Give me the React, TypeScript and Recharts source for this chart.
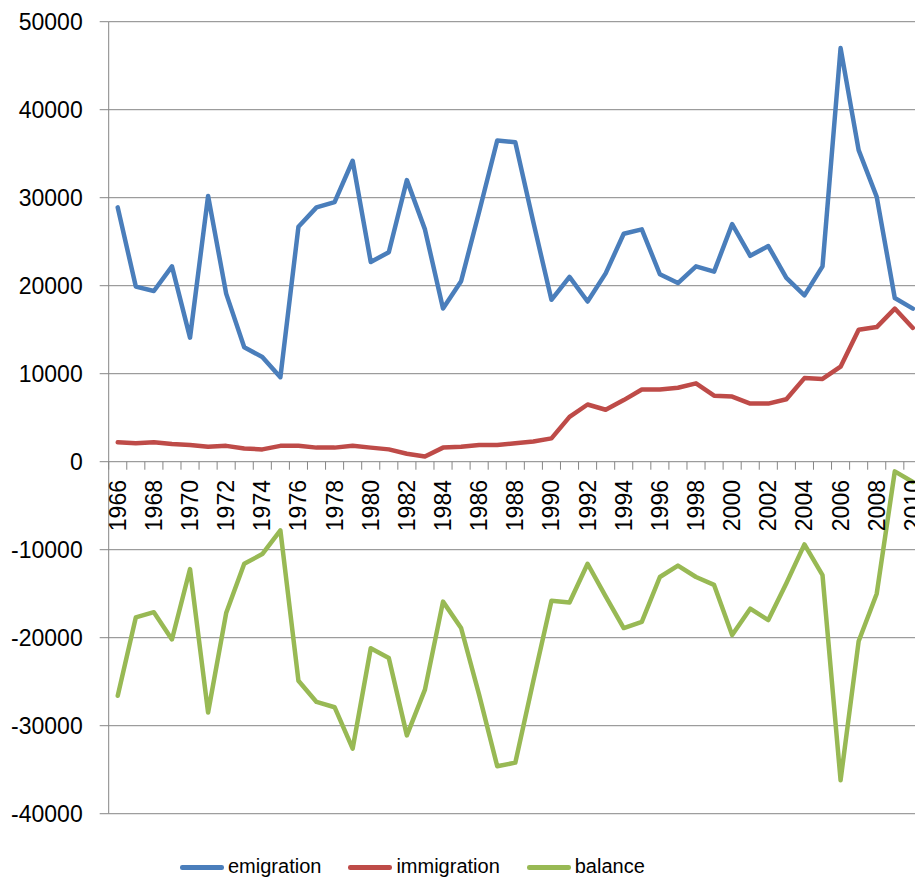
import React from 'react';
import { LineChart, Line, XAxis, YAxis, CartesianGrid, Legend } from 'recharts';

const years = ['1966','1967','1968','1969','1970','1971','1972','1973','1974','1975','1976','1977','1978','1979','1980','1981','1982','1983','1984','1985','1986','1987','1988','1989','1990','1991','1992','1993','1994','1995','1996','1997','1998','1999','2000','2001','2002','2003','2004','2005','2006','2007','2008','2009','2010'];

const emigration = [28900,19900,19400,22200,14100,30200,19100,13000,11900,9600,26700,28900,29500,34200,22700,23800,32000,26400,17400,20500,28400,36500,36300,27200,18400,21000,18200,21400,25900,26400,21300,20300,22200,21600,27000,23400,24500,20900,18900,22200,47000,35400,30100,18600,17400];

const immigration = [2200,2100,2200,2000,1900,1700,1800,1500,1400,1800,1800,1600,1600,1800,1600,1400,900,600,1600,1700,1900,1900,2100,2300,2650,5100,6500,5900,7000,8200,8200,8400,8900,7500,7400,6600,6600,7100,9500,9400,10800,15000,15300,17400,15200];

const balance = [-26600,-17700,-17100,-20200,-12200,-28500,-17200,-11600,-10500,-7800,-24900,-27300,-27900,-32600,-21200,-22300,-31100,-25900,-15900,-18900,-26500,-34600,-34200,-24900,-15800,-16000,-11600,-15300,-18900,-18200,-13100,-11800,-13100,-14000,-19700,-16700,-18000,-13800,-9400,-12900,-36200,-20400,-15000,-1100,-2300];

const seriesNames = ['emigration', 'immigration', 'balance'];

const yTicks = [-40000,-30000,-20000,-10000,0,10000,20000,30000,40000,50000];

const data = years.map((year, i) => ({
  year,
  emigration: emigration[i],
  immigration: immigration[i],
  balance: balance[i],
}));

const Y_MIN = -40000;
const Y_MAX = 50000;
const CHART_W = 915;
const CHART_H = 871;
const MARGIN_TOP = 13.7;
const MARGIN_RIGHT = 1.1;
const Y_AXIS_W = 100.7;
const X_AXIS_H = 1;
const LEGEND_H = 64.3;
const PLOT_W = CHART_W - Y_AXIS_W - MARGIN_RIGHT;
const PLOT_H = CHART_H - MARGIN_TOP - LEGEND_H - X_AXIS_H;
const STEP = PLOT_W / years.length;
const FONT = "'Liberation Sans', Arial, sans-serif";
const GRID = '#868686';

const YearTick = (props: any) => {
  const { x, y, index, payload } = props;
  const zeroY = y - (PLOT_H * (0 - Y_MIN)) / (Y_MAX - Y_MIN);
  const half = STEP / 2;
  const ty = zeroY + 18.3;
  return (
    <g>
      <line x1={x - half} x2={x - half} y1={zeroY} y2={zeroY + 8} stroke={GRID} strokeWidth={1} />
      {index === years.length - 1 && (
        <line x1={x + half} x2={x + half} y1={zeroY} y2={zeroY + 8} stroke={GRID} strokeWidth={1} />
      )}
      {index % 2 === 0 && (
        <text
          x={x}
          y={ty}
          dy="0.35em"
          textAnchor="end"
          transform={`rotate(-90 ${x} ${ty})`}
          fontSize={23}
          fontFamily={FONT}
          fill="#000"
        >
          {payload.value}
        </text>
      )}
    </g>
  );
};

const LegendContent = (props: any) => {
  const { payload } = props;
  const items = [...(payload || [])].sort(
    (a: any, b: any) => seriesNames.indexOf(a.value) - seriesNames.indexOf(b.value)
  );
  return (
    <div
      style={{
        height: LEGEND_H,
        boxSizing: 'border-box',
        paddingTop: 41.3,
        fontFamily: FONT,
        fontSize: 20,
        lineHeight: '20px',
        whiteSpace: 'nowrap',
        color: '#000',
      }}
    >
      {items.map((entry: any, i: number) => (
        <span key={i} style={{ marginRight: 27 }}>
          <span
            style={{
              display: 'inline-block',
              width: 44,
              height: 4.5,
              borderRadius: 2.25,
              background: entry.color,
              verticalAlign: 'middle',
              marginRight: 4,
            }}
          />
          {entry.value}
        </span>
      ))}
    </div>
  );
};

export default function App() {
  return (
    <LineChart
      width={CHART_W}
      height={CHART_H}
      data={data}
      margin={{ top: MARGIN_TOP, right: MARGIN_RIGHT, left: 0, bottom: 0 }}
    >
      <CartesianGrid vertical={false} stroke={GRID} strokeWidth={1} />
      <XAxis
        dataKey="year"
        interval={0}
        height={X_AXIS_H}
        tickSize={0}
        tickMargin={0}
        axisLine={false}
        tickLine={false}
        padding={{ left: STEP / 2, right: STEP / 2 }}
        tick={<YearTick />}
      />
      <YAxis
        width={Y_AXIS_W}
        domain={[Y_MIN, Y_MAX]}
        ticks={yTicks}
        interval={0}
        allowDataOverflow
        stroke={GRID}
        tickSize={9}
        tickMargin={17}
        tick={{ fill: '#000', fontSize: 23, fontFamily: FONT }}
      />
      <Legend
        verticalAlign="bottom"
        content={<LegendContent />}
        itemSorter={(item: any) => seriesNames.indexOf(item.value)}
        wrapperStyle={{ left: 172, bottom: 0, width: 700, height: LEGEND_H }}
      />
      <Line
        type="linear"
        dataKey="emigration"
        name="emigration"
        stroke="#4A7EBB"
        strokeWidth={4.5}
        dot={false}
        strokeLinejoin="round"
        strokeLinecap="round"
        isAnimationActive={false}
      />
      <Line
        type="linear"
        dataKey="immigration"
        name="immigration"
        stroke="#BE4B48"
        strokeWidth={4.5}
        dot={false}
        strokeLinejoin="round"
        strokeLinecap="round"
        isAnimationActive={false}
      />
      <Line
        type="linear"
        dataKey="balance"
        name="balance"
        stroke="#98B954"
        strokeWidth={4.5}
        dot={false}
        strokeLinejoin="round"
        strokeLinecap="round"
        isAnimationActive={false}
      />
    </LineChart>
  );
}
